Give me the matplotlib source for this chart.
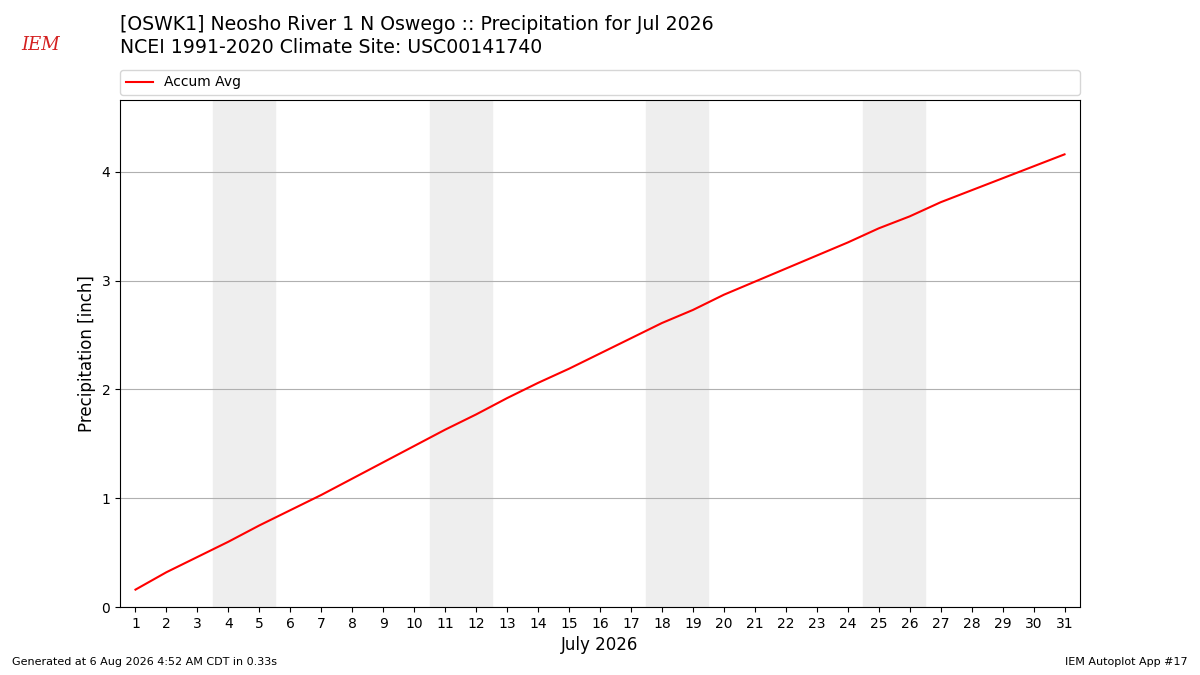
import matplotlib
matplotlib.use('Agg')
import matplotlib.pyplot as plt

days = list(range(1, 32))
accum_avg = [0.16, 0.32, 0.46, 0.60, 0.75, 0.89, 1.03, 1.18, 1.33, 1.48,
             1.63, 1.77, 1.92, 2.06, 2.19, 2.33, 2.47, 2.61, 2.73, 2.87,
             2.99, 3.11, 3.23, 3.35, 3.48, 3.59, 3.72, 3.83, 3.94, 4.05,
             4.16]
weekends = [(4, 5), (11, 12), (18, 19), (25, 26)]

fig = plt.figure(figsize=(12, 6.75), dpi=100)
ax = fig.add_axes([0.1, 0.1007, 0.8, 0.7511])

# weekend shading
for sat, sun in weekends:
    ax.axvspan(sat - 0.5, sun + 0.5, color='#eeeeee', zorder=0)

ax.plot(days, accum_avg, color='r', lw=1.5, label='Accum Avg', zorder=3)

ax.set_xlim(0.5, 31.5)
ax.set_ylim(0, max(accum_avg) * 1.12)
ax.set_xticks(days)
ax.set_yticks([0, 1, 2, 3, 4])
ax.tick_params(labelsize=10)
ax.grid(axis='y', color='#b0b0b0', lw=0.8)
ax.set_axisbelow(True)
ax.set_xlabel('July 2026', fontsize=12)
ax.set_ylabel('Precipitation [inch]', fontsize=12)

ax.legend(loc='lower left', bbox_to_anchor=(0, 1.01, 1, 0.05), mode='expand',
          ncol=1, fontsize=10, borderaxespad=0)

fig.text(0.1, 0.963, '[OSWK1] Neosho River 1 N Oswego :: Precipitation for Jul 2026',
         fontsize=13.6, va='center')
fig.text(0.1, 0.929, 'NCEI 1991-2020 Climate Site: USC00141740',
         fontsize=13.6, va='center')

# stand-in for the IEM logo
fig.text(0.018, 0.933, 'IEM', color='#d42020', fontsize=13, family='serif',
         style='italic', va='center')

fig.text(0.01, 0.015, 'Generated at 6 Aug 2026 4:52 AM CDT in 0.33s', fontsize=8)
fig.text(0.99, 0.015, 'IEM Autoplot App #17', fontsize=8, ha='right')

fig.savefig('out.png', dpi=100)
